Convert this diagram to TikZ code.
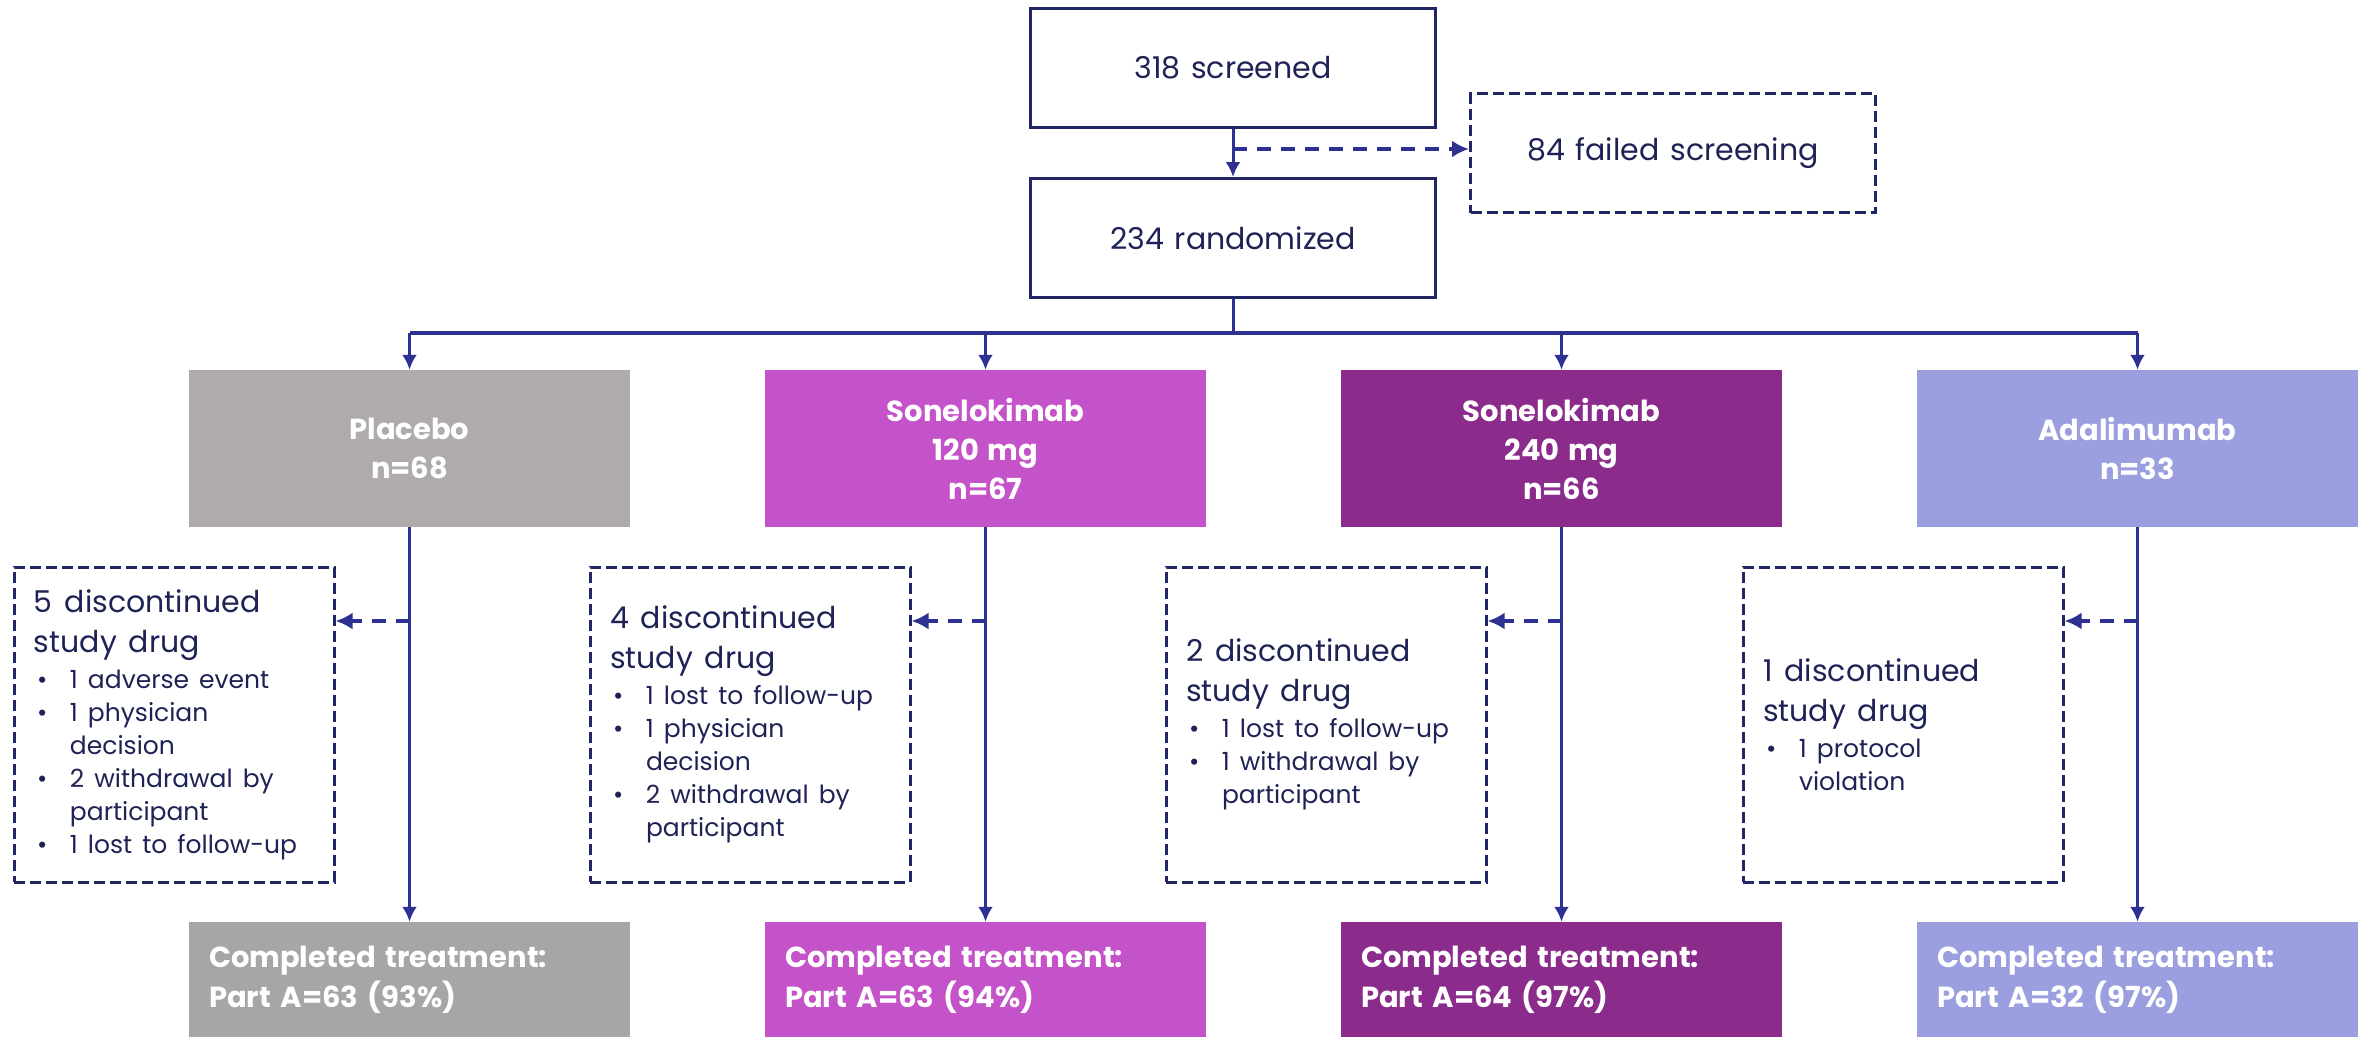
\documentclass[tikz,border=0pt]{standalone}
\usepackage{fontspec}
\setmainfont{Poppins}[WordSpace=1.35]
\usetikzlibrary{arrows.meta}

\definecolor{navy}{RGB}{33,38,100}
\definecolor{linkc}{RGB}{46,49,146}
\definecolor{txtc}{RGB}{30,34,85}
\definecolor{placc}{RGB}{174,171,170}
\definecolor{placd}{RGB}{166,166,166}
\definecolor{sonlo}{RGB}{196,82,200}
\definecolor{sonhi}{RGB}{139,43,140}
\definecolor{adal}{RGB}{155,159,223}

% heading and bullet lines of the dashed boxes
\newcommand{\dhead}[1]{{\fontsize{30}{40}\selectfont\spaceskip=.4em\noindent #1\par}\vspace{3pt}}
\newcommand{\bitem}[1]{{\fontsize{25}{33}\selectfont\spaceskip=.4em\noindent\hangindent=36pt\hangafter=1\hspace*{3pt}\makebox[33pt][l]{\textbullet}#1\par}}

\begin{document}
\begin{tikzpicture}[x=1pt, y=-1pt,
	topbox/.style = {draw=navy, line width=3pt, fill=white, minimum width=405pt, minimum height=119pt, text=txtc, font=\fontsize{30}{36}\selectfont},
	grpbox/.style = {minimum width=441pt, minimum height=157pt, text=white, align=center, font=\bfseries\fontsize{29}{39}\selectfont},
	donebox/.style = {minimum width=441pt, minimum height=115pt, text width=401pt, inner xsep=20pt, text=white, align=left, font=\bfseries\fontsize{29}{40}\selectfont},
	dropbox/.style = {draw=navy, line width=3pt, dash pattern=on 11pt off 5pt, minimum width=320pt, minimum height=315pt, text width=280pt, inner sep=0pt, align=left, text=txtc},
	link/.style = {draw=linkc, line width=3pt},
	arr/.style = {link, -{Latex[length=15pt,width=15pt]}},
	darr/.style = {draw=linkc, line width=4pt, dash pattern=on 14pt off 10pt, -{Latex[length=17pt,width=17pt]}}]
	\useasboundingbox (0,0) rectangle (2364,1037);

	\node [topbox] (scr) at (1233,67.5) {318 screened};
	\node [topbox] (rnd) at (1233,238) {234 randomized};
	\node [topbox, dash pattern=on 11pt off 5pt] (fail) at (1673,153) {84 failed screening};
	\draw [arr] (scr) -- (rnd);
	\coordinate (sp) at (1233,149);
	\draw [darr] (sp) -- (sp -| fail.west);

	\node [grpbox, fill=placc] (g1) at (409.5,448.5) {Placebo\\n=68};
	\node [grpbox, fill=sonlo] (g2) at (985.5,448.5) {Sonelokimab\\120 mg\\n=67};
	\node [grpbox, fill=sonhi] (g3) at (1561.5,448.5) {Sonelokimab\\240 mg\\n=66};
	\node [grpbox, fill=adal] (g4) at (2137.5,448.5) {Adalimumab\\n=33};

	\node [dropbox] (d1) at (174,724.5) {\dhead{5 discontinued\\study drug}\bitem{1 adverse event}\bitem{1 physician\newline decision}\bitem{2 withdrawal by\newline participant}\bitem{1 lost to follow-up}};
	\node [dropbox] (d2) at (750,724.5) {\dhead{4 discontinued\\study drug}\bitem{1 lost to follow-up}\bitem{1 physician\newline decision}\bitem{2 withdrawal by\newline participant}};
	\node [dropbox] (d3) at (1326,724.5) {\dhead{2 discontinued\\study drug}\bitem{1 lost to follow-up}\bitem{1 withdrawal by\newline participant}};
	\node [dropbox] (d4) at (1903,724.5) {\dhead{1 discontinued\\study drug}\bitem{1 protocol\newline violation}};

	\node [donebox, fill=placd] (c1) at (409.5,979.5) {Completed treatment:\\Part A=63 (93\%)};
	\node [donebox, fill=sonlo] (c2) at (985.5,979.5) {Completed treatment:\\Part A=63 (94\%)};
	\node [donebox, fill=sonhi] (c3) at (1561.5,979.5) {Completed treatment:\\Part A=64 (97\%)};
	\node [donebox, fill=adal] (c4) at (2137.5,979.5) {Completed treatment:\\Part A=32 (97\%)};

	\coordinate (bus) at (1233,333);
	\coordinate (dl) at (0,621);
	\draw [link] (rnd) -- (bus);
	\draw [link, line width=4pt] (bus -| g1) -- (bus -| g4);
	\foreach \g/\d/\c in {g1/d1/c1, g2/d2/c2, g3/d3/c3, g4/d4/c4} {
		\draw [arr] (bus -| \g) -- (\g);
		\draw [arr] (\g) -- (\c);
		\draw [darr] (\g |- dl) -- (\d.east |- dl);
	}
\end{tikzpicture}
\end{document}
